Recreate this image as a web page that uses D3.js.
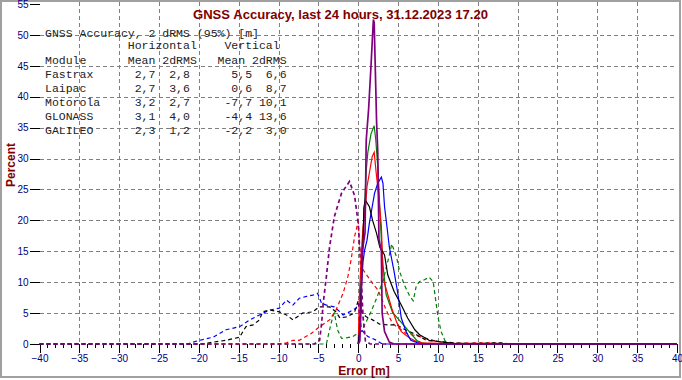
<!DOCTYPE html>
<html><head><meta charset="utf-8">
<script src="https://cdn.jsdelivr.net/npm/d3@7"></script>
<style>
body{margin:0;background:#fff;}
svg{display:block;}
text{font-family:"Liberation Sans",Arial,sans-serif;}
.mono{font-family:"Liberation Mono","Courier New",monospace;font-size:11.5px;fill:#222;white-space:pre;}
</style></head>
<body>
<svg id="c" width="682" height="380"></svg>
<script>
// ---------- data ----------
const titleText = "GNSS Accuracy, last 24 hours, 31.12.2023 17.20";
const xLabel = "Error [m]";
const yLabel = "Percent";
const xTicksMajor = [-40,-35,-30,-25,-20,-15,-10,-5,0,5,10,15,20,25,30,35,40];
const yTicks = [0,5,10,15,20,25,30,35,40,45,50,55];

const modules = ["Fastrax","Laipac","Motorola","GLONASS","GALILEO"];
const horizMean = [2.7,2.7,3.2,3.1,2.3];
const horiz2dRMS = [2.8,3.6,2.7,4.0,1.2];
const vertMean = [5.5,0.6,-7.7,-4.4,-2.2];
const vert2dRMS = [6.6,8.7,10.1,13.6,3.0];
const colors = ["#008000","#ff0000","#0000ff","#000000","#800080"];

// horizontal error distributions [error m, percent] (solid)
const fastraxH = [[0,0],[0.2,3],[0.4,12],[0.7,20],[1.0,28],[1.2,31],[1.6,34],[2.0,35.3],[2.2,33],[2.5,27.7],[2.7,22],[2.9,16.8],[3.1,12.8],[3.5,8],[4.3,5.1],[5.4,3.5],[6.4,2],[7.4,0.5],[8,0.2],[9,0],[40,0]];
const laipacH = [[0,0],[0.15,8],[0.4,15],[0.6,19],[0.9,22],[1.1,25.5],[1.4,27.7],[1.75,30.3],[2.0,31],[2.25,27.7],[2.6,23.6],[2.9,19],[3.0,15.2],[3.1,10.7],[4.2,5.8],[4.8,3.6],[5.4,2],[6.4,1],[7.4,0.3],[8,0.2],[10,0.1],[12,0],[40,0]];
const motorolaH = [[0,0],[0.25,3],[0.3,5.2],[0.4,9.5],[0.6,13.3],[0.8,15.2],[1.1,16.8],[1.4,19.6],[1.75,22.2],[2.05,24.4],[2.45,26],[2.9,27],[3.1,26],[3.3,22.2],[3.6,19],[3.9,15.7],[4.5,11.7],[5,7.9],[5.4,4.2],[6,2],[6.6,0.6],[7.4,0.2],[8,0],[40,0]];
const glonassH = [[0,0],[0.2,2],[0.4,10],[0.6,16],[0.7,22],[0.87,23.3],[1.4,22.2],[1.8,20],[2.3,17.9],[2.7,15.7],[3.3,14.4],[3.7,11.2],[4.5,8.5],[5.4,6.3],[6.2,4.2],[7.1,2.3],[7.7,1.5],[8.9,0.6],[10,0.4],[12,0.1],[13,0],[40,0]];
const galileoH = [[0,0],[0.2,0.5],[0.35,6],[0.5,15],[0.85,18],[1.0,33],[1.3,38],[1.6,45],[1.9,52.5],[2.0,52],[2.15,44],[2.3,36],[2.45,31],[2.6,17],[2.9,15],[3.0,5],[3.3,2],[3.9,0.3],[4.5,0],[40,0]];

// vertical error distributions (dashed)
const fastraxV = [[-40,0],[-4,0],[-3.6,2.3],[-3.2,4.4],[-3.0,5],[-2.6,2.3],[-2.1,0.9],[-1.5,1.0],[-0.7,1.2],[0,1.8],[0.4,2],[1,3.6],[1.6,5.2],[2.3,7.4],[2.9,9.5],[3.3,11.2],[3.9,14.4],[4.2,16.2],[4.8,14.1],[5.2,11.7],[5.8,9.5],[6.4,7.9],[6.9,7.0],[7.3,9.5],[7.7,10.1],[8.3,10.4],[8.9,10.8],[9.4,10.1],[9.6,8.2],[10,4.4],[10.4,2],[11,0.2],[11.5,0],[40,0]];
const laipacV = [[-40,0],[-10,0],[-9,0.2],[-8.2,0.6],[-7.4,0.6],[-5.9,1.7],[-4.85,2.8],[-3.6,3.9],[-2.8,5.5],[-1.9,8.2],[-1.3,10.9],[-0.9,13.6],[-0.46,17.4],[0,19.8],[0.16,15.7],[0.6,12],[1.2,10.9],[1.8,9.8],[2.5,8.7],[3.5,5.5],[4.3,3.3],[6,1.7],[7.7,1.2],[9.4,0.6],[10.6,0.2],[12,0.1],[15,0.2],[17,0.2],[18,0],[40,0]];
const motorolaV = [[-40,0],[-21.4,0],[-21,0.2],[-19.9,0.6],[-18.2,1.1],[-16.6,2.3],[-14.9,2.8],[-13.6,3.9],[-12.4,4.7],[-11.1,5.5],[-9.9,5.8],[-9.0,7.1],[-8.2,6.3],[-7.4,7.4],[-6.5,7.7],[-5.7,7.9],[-5.1,8.2],[-4.6,6.6],[-4,6.3],[-3,6],[-2.3,5.2],[-1.9,4.7],[-1.1,5.2],[-0.25,5.8],[0,6.6],[0.4,2.3],[1.2,1.2],[2.3,0.6],[2.9,0.1],[3.5,0],[40,0]];
const glonassV = [[-40,0],[-19.5,0],[-18.7,0.2],[-16.6,0.6],[-14.9,1.1],[-14.1,2.8],[-13.2,3.1],[-12.4,3.9],[-12,5.2],[-11.1,5.5],[-9.9,5.2],[-9,4.7],[-8.2,3.9],[-7,5],[-5.7,5.2],[-4.9,6],[-3.6,6],[-2.8,5.2],[-2.3,4.2],[-1.5,4.4],[-0.5,5],[0,7],[0.5,5],[1,4.4],[1.8,3.9],[2.7,3.2],[3.7,3.1],[4.8,3.1],[5.6,2.5],[6.4,2],[7.3,1.5],[8.5,0.6],[10.2,0.4],[12,0.2],[14,0.1],[18,0.2],[19,0],[40,0]];
const galileoV = [[-40,0],[-5.5,0],[-4.85,0.6],[-4.6,3.3],[-4.4,6.6],[-4.0,10.9],[-3.6,15.7],[-3.0,20.6],[-2.1,24.4],[-1.1,26.3],[-0.46,24],[0,19.5],[0.2,15],[0.4,10],[0.6,4.4],[0.9,0.5],[1.5,0],[40,0]];

const horizSeries = [fastraxH, laipacH, motorolaH, glonassH, galileoH];
const vertSeries = [fastraxV, laipacV, motorolaV, glonassV, galileoV];

// ---------- drawing ----------
const svg = d3.select("#c");
const x = d3.scaleLinear().domain([-40,40]).range([39.5,677]);
const y = d3.scaleLinear().domain([0,55]).range([344,4]);
const navy = "#000080", darkRed = "#800000";

// outer frame
svg.append("rect").attr("x",1).attr("y",1).attr("width",679).attr("height",376)
  .attr("fill","none").attr("stroke","#a0a0a0").attr("stroke-width",2);

// grid
const grid = svg.append("g").attr("stroke","#808080").attr("stroke-width",1)
  .attr("stroke-dasharray","4,3").attr("shape-rendering","crispEdges");
xTicksMajor.filter(v=>v>-40&&v<40).forEach(v=>{
  const px = Math.round(x(v))+0.5;
  grid.append("line").attr("x1",px).attr("x2",px).attr("y1",2).attr("y2",y(0));
});
yTicks.filter(v=>v>0&&v<55).forEach(v=>{
  const py = Math.round(y(v))+0.5;
  grid.append("line").attr("x1",x(-40)).attr("x2",x(40)).attr("y1",py).attr("y2",py);
});

// y axis
const yAxis = svg.append("g").attr("transform",`translate(${x(-40)},0)`)
  .call(d3.axisLeft(y).tickValues(yTicks).tickSize(10).tickPadding(1).tickFormat(d3.format("d")));
yAxis.select(".domain").remove();
yAxis.selectAll("line").attr("stroke","#000").attr("shape-rendering","crispEdges");
yAxis.selectAll("text").attr("fill",navy).attr("font-size","10px").attr("font-family","Liberation Sans, Arial");

// x axis minor
const xMinor = svg.append("g").attr("transform",`translate(0,${y(0)})`)
  .call(d3.axisBottom(x).tickValues(d3.range(-40,41,1)).tickSize(4).tickFormat(""));
xMinor.select(".domain").remove();
xMinor.selectAll("line").attr("stroke","#000").attr("shape-rendering","crispEdges");
// x axis major
const xAxis = svg.append("g").attr("transform",`translate(0,${y(0)})`)
  .call(d3.axisBottom(x).tickValues(xTicksMajor).tickSize(9).tickPadding(2).tickFormat(d3.format("d")));
xAxis.select(".domain").remove();
xAxis.selectAll("line").attr("stroke","#000").attr("shape-rendering","crispEdges");
xAxis.selectAll("text").attr("fill",navy).attr("font-size","10px").attr("font-family","Liberation Sans, Arial");

// lines
const line = d3.line().x(d=>x(d[0])).y(d=>y(d[1]));
const plot = svg.append("g");
vertSeries.forEach((s,i)=>{
  plot.append("path").attr("d",line(s)).attr("fill","none").attr("stroke",colors[i])
    .attr("stroke-width", i===4?1.7:1.2).attr("stroke-dasharray","4,3");
});
horizSeries.forEach((s,i)=>{
  plot.append("path").attr("d",line(s)).attr("fill","none").attr("stroke",colors[i])
    .attr("stroke-width", i===4?1.7:1.2);
});

// legend table
const fmt = v => d3.format(".1f")(v).replace(".",",").replace("−","-");
const pad = (s,n) => String(s).padStart(n," ");
const lines = [
  "GNSS Accuracy, 2 dRMS (95%) [m]",
  "            Horizontal    Vertical",
  "Module      Mean 2dRMS   Mean 2dRMS"
];
modules.forEach((m,i)=>{
  lines.push(m.padEnd(10," ") + pad(fmt(horizMean[i]),6) + pad(fmt(horiz2dRMS[i]),5) + pad(fmt(vertMean[i]),9) + pad(fmt(vert2dRMS[i]),5));
});
const baselines = [37,49,64,78,92,106,120,134];
lines.forEach((t,i)=>{
  svg.append("text").attr("class","mono").attr("x",45).attr("y",baselines[i])
    .attr("xml:space","preserve").text(t);
});

// titles
svg.append("text").attr("x",340.5).attr("y",19).attr("text-anchor","middle")
  .attr("fill",darkRed).attr("font-size","13px").attr("font-weight","bold")
  .attr("textLength",295).attr("lengthAdjust","spacingAndGlyphs").text(titleText);
svg.append("text").attr("x",364).attr("y",375).attr("text-anchor","middle")
  .attr("fill",darkRed).attr("font-size","12px").attr("font-weight","bold").text(xLabel);
svg.append("text").attr("transform","translate(15,165) rotate(-90)").attr("text-anchor","middle")
  .attr("fill",darkRed).attr("font-size","12px").attr("font-weight","bold").text(yLabel);
</script>
</body></html>
